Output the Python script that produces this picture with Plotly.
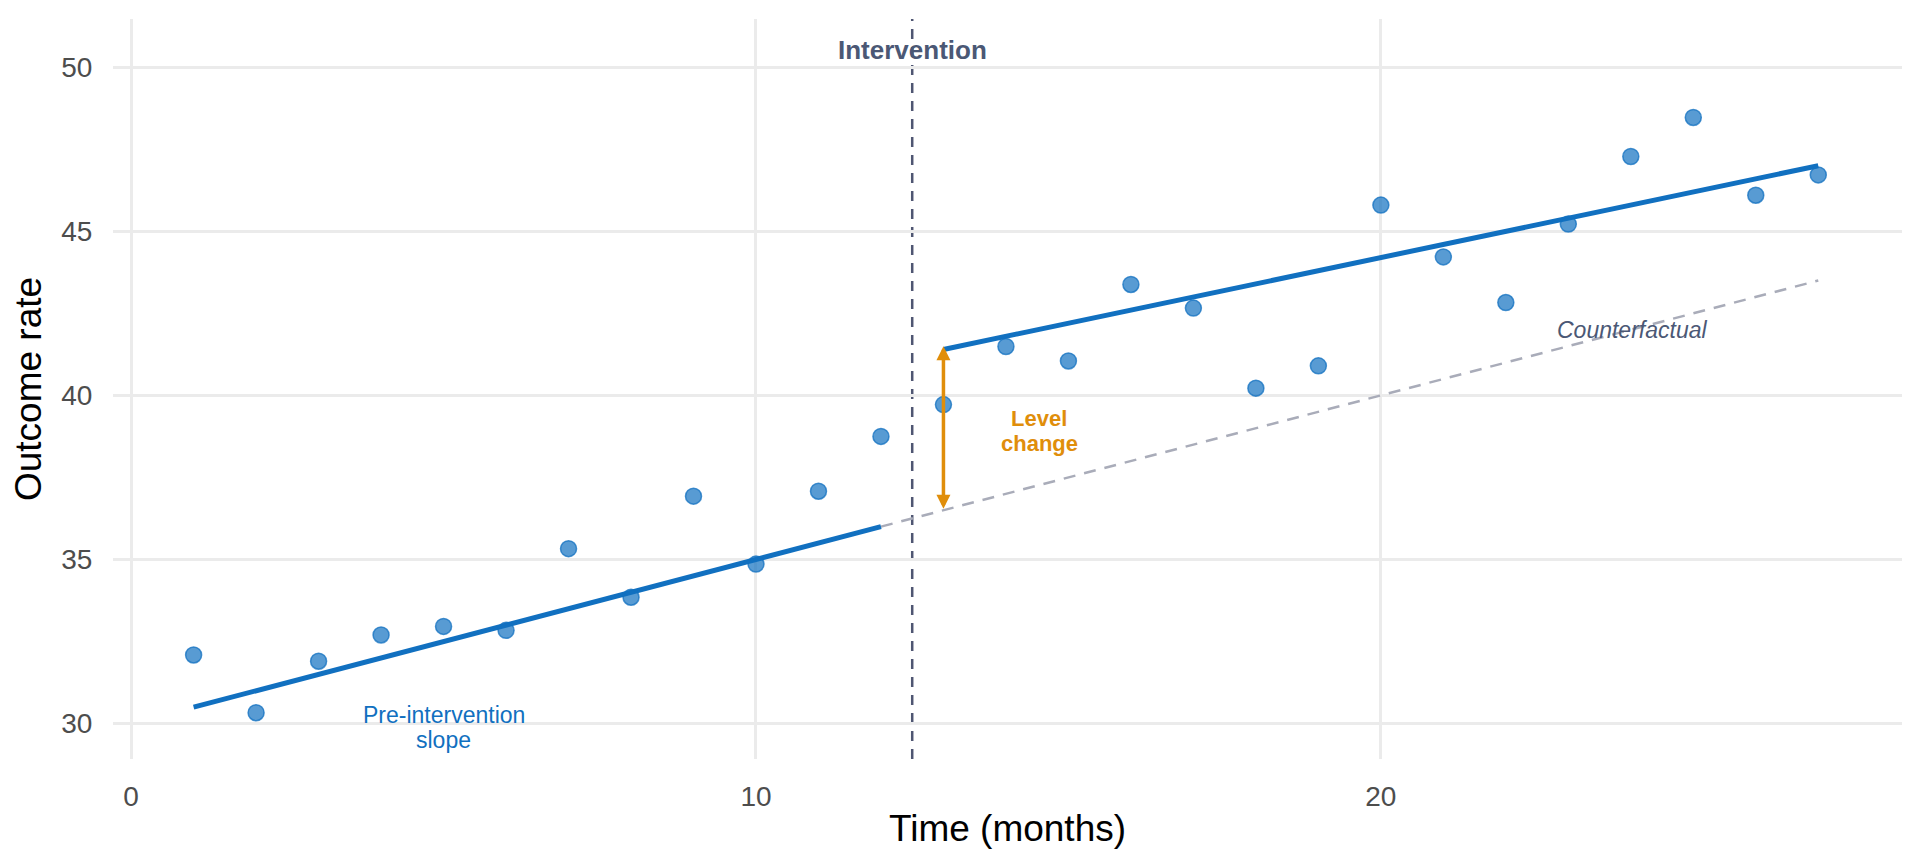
import plotly.graph_objects as go

# ---- data ----
months = list(range(1, 28))
rate = [32.09, 30.33, 31.90, 32.70, 32.96, 32.84, 35.33, 33.85, 36.93, 34.86,
        37.08, 38.75, 39.72, 41.49, 41.05, 43.38, 42.66, 40.22, 40.90, 45.80,
        44.22, 42.83, 45.22, 47.28, 48.47, 46.10, 46.72]

pre_fit_x = [1, 12]
pre_fit_y = [30.5, 36.0]
post_fit_x = [13, 27]
post_fit_y = [41.4, 47.0]
cf_x = [12, 27]
cf_y = [36.0, 43.5]

intervention_x = 12.5
level_x = 13
level_from = 36.5
level_to = 41.5

x_ticks = [0, 10, 20]
y_ticks = [30, 35, 40, 45, 50]

FONT = "Liberation Sans, Arial, Helvetica, sans-serif"
BLUE = "#1170C0"
ORANGE = "#E08E0B"
SLATE = "#4B5875"

fig = go.Figure()

fig.add_trace(go.Scatter(x=cf_x, y=cf_y, mode="lines",
                         line=dict(color="#A9ACB9", width=2.5, dash="12px,9px"),
                         showlegend=False, hoverinfo="skip"))
fig.add_trace(go.Scatter(x=pre_fit_x, y=pre_fit_y, mode="lines",
                         line=dict(color=BLUE, width=5), showlegend=False))
fig.add_trace(go.Scatter(x=post_fit_x, y=post_fit_y, mode="lines",
                         line=dict(color=BLUE, width=5), showlegend=False))
fig.add_trace(go.Scatter(x=months, y=rate, mode="markers",
                         marker=dict(size=16, color="rgba(17,112,192,0.7)",
                                     line=dict(color="rgba(17,112,192,0.75)", width=1.5)),
                         showlegend=False))

fig.add_vline(x=intervention_x, line=dict(color="#4F5672", width=2.5, dash="10px,8px"),
              layer="below")

# level change arrow
fig.add_annotation(x=level_x, y=level_to, ax=level_x, ay=level_from,
                   xref="x", yref="y", axref="x", ayref="y", text="",
                   showarrow=True, arrowside="end+start", arrowhead=2,
                   arrowsize=0.8, arrowwidth=3.5, arrowcolor=ORANGE,
                   standoff=0, startstandoff=0)

# labels
fig.add_annotation(x=intervention_x, y=50.54, text="<b>Intervention</b>", showarrow=False,
                   font=dict(family=FONT, size=26, color=SLATE), xanchor="center", yanchor="middle")
fig.add_annotation(x=14.53, y=39.31, text="<b>Level</b>", showarrow=False,
                   font=dict(family=FONT, size=22, color=ORANGE), xanchor="center", yanchor="middle")
fig.add_annotation(x=14.53, y=38.52, text="<b>change</b>", showarrow=False,
                   font=dict(family=FONT, size=22, color=ORANGE), xanchor="center", yanchor="middle")
fig.add_annotation(x=24.02, y=41.99, text="<i>Counterfactual</i>", showarrow=False,
                   font=dict(family=FONT, size=23, color=SLATE), xanchor="center", yanchor="middle")
fig.add_annotation(x=5.0, y=30.27, text="Pre-intervention", showarrow=False,
                   font=dict(family=FONT, size=23, color=BLUE), xanchor="center", yanchor="middle")
fig.add_annotation(x=5.0, y=29.5, text="slope", showarrow=False,
                   font=dict(family=FONT, size=23, color=BLUE), xanchor="center", yanchor="middle")

# page body has an 8px margin -> shrink figure and trim left/top margins accordingly
fig.update_layout(
    width=1912, height=856,
    margin=dict(l=105, r=18, t=11, b=105),
    paper_bgcolor="white", plot_bgcolor="white",
    font=dict(family=FONT),
    xaxis=dict(range=[-0.29, 28.34], tickvals=x_ticks, showgrid=True,
               gridcolor="#EBEBEB", gridwidth=2.5, zeroline=False, showline=False,
               ticks="outside", ticklen=12, tickcolor="rgba(0,0,0,0)",
               tickfont=dict(family=FONT, size=28, color="#4D4D4D"),
               title=dict(text="Time (months)", font=dict(family=FONT, size=37, color="black"),
                          standoff=4)),
    yaxis=dict(range=[28.92, 51.47], tickvals=y_ticks, showgrid=True,
               gridcolor="#EBEBEB", gridwidth=2.5, zeroline=False, showline=False,
               ticks="outside", ticklen=14, tickcolor="rgba(0,0,0,0)",
               tickfont=dict(family=FONT, size=28, color="#4D4D4D"),
               title=dict(text="Outcome rate", font=dict(family=FONT, size=37, color="black"),
                          standoff=10)),
)

fig.write_html("out.html")
